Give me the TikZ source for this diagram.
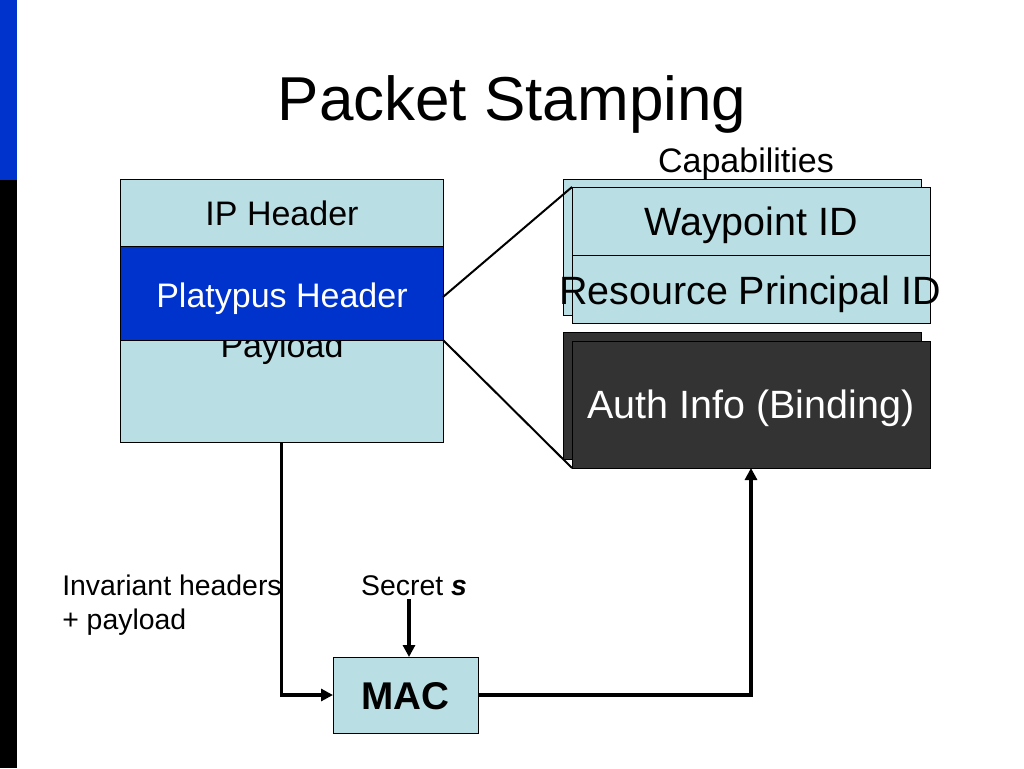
\documentclass[tikz,border=0pt]{standalone}
\usepackage{fontspec}
\setmainfont{Liberation Sans}
\usetikzlibrary{arrows.meta}
\definecolor{lb}{RGB}{185,222,227}
\definecolor{pblue}{RGB}{0,51,204}
\definecolor{dk}{RGB}{51,51,51}
\newcommand{\fsz}[1]{\fontsize{#1}{#1}\selectfont}
\begin{document}
\begin{tikzpicture}[x=0.75pt,y=-0.75pt,
  box/.style={draw=black,line width=0.75pt,minimum width={#1*0.75pt},inner sep=0pt,outer sep=0pt},
  lbox/.style={box=#1,fill=lb},
  dbox/.style={box=#1,fill=dk},
  txt/.style={inner sep=0pt,anchor=base},
  arr/.style={line width=2.8pt,line join=miter,-{Triangle[length=9pt,width=9pt]}},
  conn/.style={line width=1.5pt}]
\useasboundingbox (0,0) rectangle (1024,768);
\fill[white] (0,0) rectangle (1024,768);
\fill[pblue] (0,0) rectangle (17,180);
\fill[black] (0,180) rectangle (17,768);

\node[txt] (title) at (512,120) {\fsz{46.5}Packet Stamping};

% packet
\node[lbox=323,minimum height={263*0.75pt}] (packet) at (281.5,310.5) {};
\node[txt] (payload) at (282,357) {\fsz{25.5}Payload};
\node[box=323,fill=pblue,minimum height={94*0.75pt}] (plat) at (281.5,293) {};
\node[txt,text=white] (plattxt) at (282,307) {\fsz{25.5}Platypus Header};
\node[txt] (iphdr) at (282,225) {\fsz{25.5}IP Header};

% capabilities
\node[txt] (captxt) at (746,172) {\fsz{25.5}Capabilities};
\node[lbox=358,minimum height={136*0.75pt}] (capback) at (742,247) {};
\node[lbox=358,minimum height={136*0.75pt}] (capfront) at (751,255) {};
\draw[line width=0.75pt] (capfront.west) -- (capfront.east);
\node[txt] (wp) at (751,235) {\fsz{29.6}Waypoint ID};
\node[txt] (rp) at (750,304) {\fsz{29.6}Resource Principal ID};

% auth
\node[dbox=358,minimum height={127*0.75pt}] (dback) at (742,395.5) {};
\node[dbox=358,minimum height={127*0.75pt}] (dfront) at (751,404.5) {};
\node[txt,text=white] (auth) at (751,418) {\fsz{29.6}Auth Info (Binding)};

% connectors from platypus header
\draw[conn] ([yshift=-3pt]plat.east) -- (capfront.north west);
\draw[conn] (plat.south east) -- (dfront.south west);

% MAC
\node[lbox=145,minimum height={76*0.75pt}] (mac) at (405.5,695) {};
\node[txt] (mactxt) at (405.5,709) {\fsz{29}\bfseries MAC};

\node[txt,anchor=base west] (inv) at (62,595) {\fsz{21.3}Invariant headers};
\node[txt,anchor=base west] (inv2) at (62,629) {\fsz{21.3}+ payload};
\node[txt] (secret) at (414,595) {\fsz{21.3}Secret \textbf{\textit{s}}};
\coordinate (secstart) at (409,599);

\draw[arr] (packet.south) |- (mac.west);
\draw[arr] (secstart) -- (secstart |- mac.north);
\draw[arr] (mac.east) -| (dfront.south);
\end{tikzpicture}
\end{document}
